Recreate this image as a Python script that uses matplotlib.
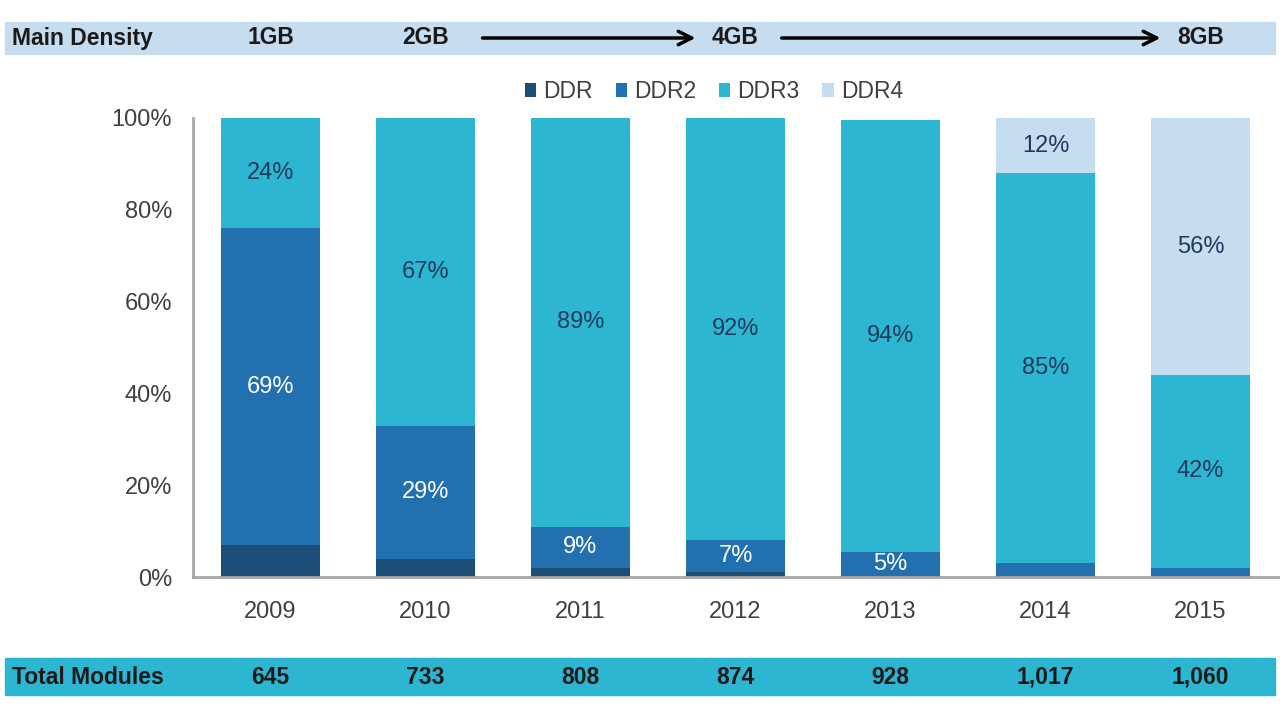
import matplotlib.pyplot as plt
import matplotlib.transforms as mtransforms
from matplotlib.patches import Rectangle, FancyArrowPatch
import numpy as np

plt.rcParams['font.family'] = ['Liberation Sans', 'DejaVu Sans']

years = ['2009', '2010', '2011', '2012', '2013', '2014', '2015']
ddr = [7, 4, 2, 1, 0, 0, 0]
ddr2 = [69, 29, 9, 7, 5.5, 3, 2]
ddr3 = [24, 67, 89, 92, 94, 85, 42]
ddr4 = [0, 0, 0, 0, 0, 12, 56]
total_modules = ['645', '733', '808', '874', '928', '1,017', '1,060']
density = {0: '1GB', 1: '2GB', 3: '4GB', 6: '8GB'}

# labels shown inside the bars (year index -> text)
labels_ddr2 = {0: '69%', 1: '29%', 2: '9%', 3: '7%', 4: '5%'}
labels_ddr3 = {0: '24%', 1: '67%', 2: '89%', 3: '92%', 4: '94%', 5: '85%', 6: '42%'}
labels_ddr4 = {5: '12%', 6: '56%'}

c_ddr = '#1c4e78'
c_ddr2 = '#2270b0'
c_ddr3 = '#2cb6d1'
c_ddr4 = '#c6dcef'
txt_dark = '#1f3a5a'

fig = plt.figure(figsize=(12.8, 7.22), dpi=100)
ax = fig.add_axes([193 / 1280, 1 - 577 / 722, (1278 - 193) / 1280, (577 - 118) / 722])

x = np.arange(len(years))
w = 0.645
b0 = np.zeros(len(years))
series = [(ddr, c_ddr, 'DDR', {}, 'white'),
          (ddr2, c_ddr2, 'DDR2', labels_ddr2, 'white'),
          (ddr3, c_ddr3, 'DDR3', labels_ddr3, txt_dark),
          (ddr4, c_ddr4, 'DDR4', labels_ddr4, txt_dark)]
for vals, col, name, labs, tcol in series:
    vals = np.array(vals, dtype=float)
    ax.bar(x, vals, w, bottom=b0, color=col, label=name, edgecolor='none')
    for i, t in labs.items():
        ax.text(x[i], b0[i] + vals[i] / 2, t, ha='center', va='center',
                fontsize=17, color=tcol)
    b0 = b0 + vals

ax.set_xlim(-0.5, 6.5)
ax.set_ylim(0, 100)
ax.set_yticks(range(0, 101, 20))
ax.set_yticklabels([f'{v}%' for v in range(0, 101, 20)])
ax.set_xticks(x)
ax.set_xticklabels(years)
ax.tick_params(length=0, labelsize=17, colors='#404040')
ax.tick_params(axis='y', pad=15)
ax.tick_params(axis='x', pad=17)
for s in ['top', 'right']:
    ax.spines[s].set_visible(False)
for s in ['left', 'bottom']:
    ax.spines[s].set_color('#a6a6a6')
    ax.spines[s].set_linewidth(2)

leg = ax.legend(loc='lower center', bbox_to_anchor=(0.48, 1.0), ncol=4, frameon=False,
                fontsize=16.5, handlelength=0.5, handleheight=0.5, handletextpad=0.3,
                columnspacing=1.0, borderaxespad=0.25)
for t in leg.get_texts():
    t.set_color('#404040')

# top band: main density
trans = mtransforms.blended_transform_factory(ax.transData, fig.transFigure)
fig.patches.append(Rectangle((5 / 1280, 1 - 54 / 722), 1270 / 1280, 32 / 722,
                             transform=fig.transFigure, color='#c6dcef', zorder=0))
yb = 1 - 38 / 722
fig.text(12 / 1280, yb, 'Main Density', ha='left', va='center', fontsize=16.5,
         fontweight='bold', color='#1a1a1a')
for i, t in density.items():
    fig.text(x[i], yb, t, transform=trans, ha='center', va='center', fontsize=16.5,
             fontweight='bold', color='#1a1a1a')
for a, b, off in [(1, 3, 0.35), (3, 6, 0.28)]:
    arr = FancyArrowPatch((x[a] + off, yb), (x[b] - 0.24, yb), transform=trans,
                          arrowstyle='->', lw=2.5, color='black', mutation_scale=24)
    fig.add_artist(arr)

# bottom band: total modules
fig.patches.append(Rectangle((5 / 1280, 1 - 695 / 722), 1270 / 1280, 37 / 722,
                             transform=fig.transFigure, color='#2cb6d1', zorder=0))
yt = 1 - 677 / 722
fig.text(12 / 1280, yt, 'Total Modules', ha='left', va='center', fontsize=16.5,
         fontweight='bold', color='#1a1a1a')
for i, t in enumerate(total_modules):
    fig.text(x[i], yt, t, transform=trans, ha='center', va='center', fontsize=16.5,
             fontweight='bold', color='#1a1a1a')

fig.savefig('out.png', dpi=100)
